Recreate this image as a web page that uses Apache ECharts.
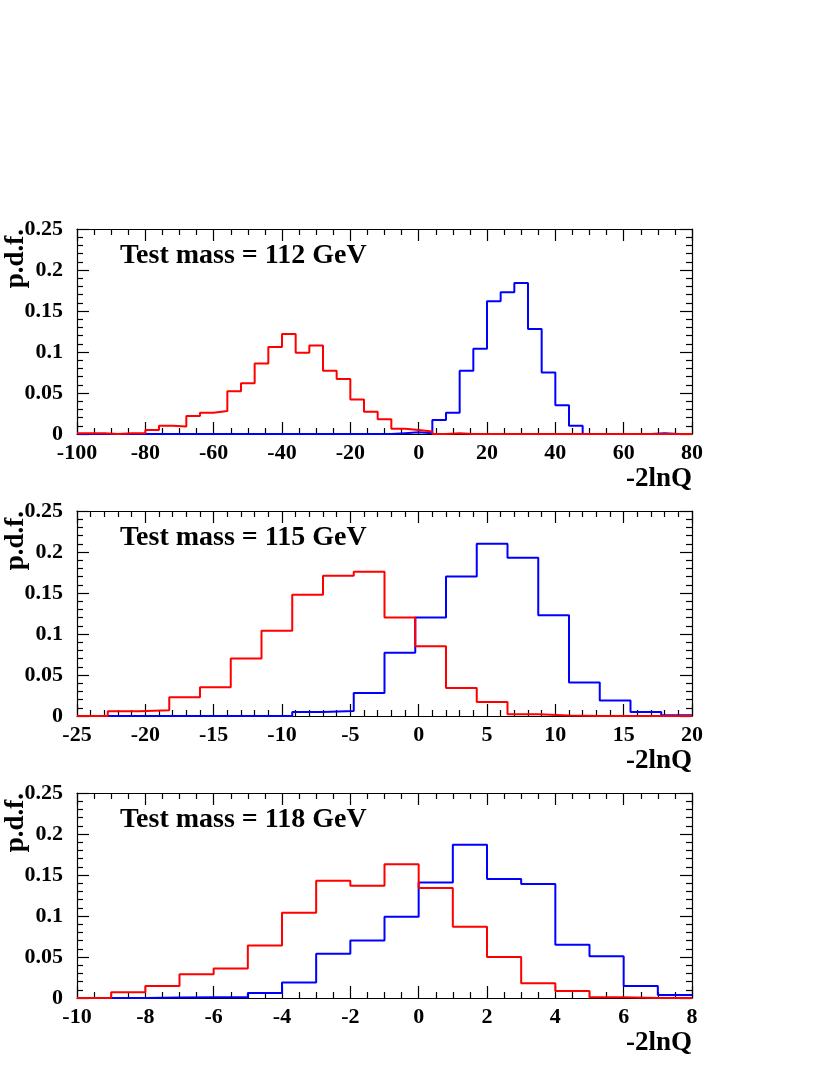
<!DOCTYPE html>
<html>
<head>
<meta charset="utf-8">
<script src="https://cdn.jsdelivr.net/npm/echarts@6/dist/echarts.min.js"></script>
<style>
html,body{margin:0;padding:0;background:#fff;}
#c{width:830px;height:1075px;}
</style>
</head>
<body>
<div id="c"></div>
<script>
// ---- Data ----
// Panel titles
var panelTitles = ['Test mass = 112 GeV', 'Test mass = 115 GeV', 'Test mass = 118 GeV'];
var xTitle = '-2lnQ';
var yTitle = 'p.d.f.';

// Panel 1 (112 GeV): bins of width 4 from -100 to 80
var p1Start = -100, p1Width = 4;
var p1Red = [0.001, 0.001, 0, 0.001, 0.001, 0.005, 0.010, 0.009, 0.022, 0.026, 0.028, 0.052, 0.062, 0.086, 0.106, 0.122, 0.099, 0.108, 0.077, 0.067, 0.042, 0.027, 0.018, 0.0065, 0.005,
             0.003, 0, 0.001, 0, 0, 0, 0, 0, 0, 0, 0, 0, 0, 0, 0, 0, 0, 0, 0, 0];
var p1Blue = [0, 0, 0, 0, 0, 0, 0, 0, 0, 0, 0, 0, 0, 0, 0, 0, 0, 0, 0, 0, 0, 0, 0, 0.001, 0.002,
              0.001, 0.017, 0.026, 0.077, 0.104, 0.162, 0.173, 0.184, 0.128, 0.075, 0.035, 0.010, 0, 0, 0, 0, 0, 0.001, 0, 0];

// Panel 2 (115 GeV): bins of width 2.25 from -25 to 20
var p2Start = -25, p2Width = 2.25;
var p2Red = [0, 0.0057, 0.007, 0.023, 0.035, 0.070, 0.104, 0.148, 0.171, 0.176, 0.120, 0.085, 0.034, 0.017, 0.002, 0.0005, 0, 0, 0, 0];
var p2Blue = [0, 0, 0, 0, 0, 0, 0, 0.005, 0.006, 0.028, 0.077, 0.120, 0.170, 0.210, 0.193, 0.123, 0.041, 0.019, 0.005, 0.001];

// Panel 3 (118 GeV): bins of width 1 from -10 to 8
var p3Start = -10, p3Width = 1;
var p3Red = [0, 0.007, 0.0146, 0.029, 0.036, 0.064, 0.104, 0.143, 0.137, 0.163, 0.134, 0.087, 0.050, 0.018, 0.0085, 0.001, 0, 0];
var p3Blue = [0, 0, 0.0005, 0.001, 0.001, 0.006, 0.019, 0.054, 0.070, 0.099, 0.141, 0.187, 0.145, 0.139, 0.065, 0.051, 0.0146, 0.0037];

// Axis ranges / ticks
var xRanges = [[-100, 80, 20, 4], [-25, 20, 5, 5], [-10, 8, 2, 4]]; // min, max, major interval, minor split
var yMin = 0, yMax = 0.25, yInterval = 0.05, yMinorSplit = 5;

// ---- Build ----
function histPoints(start, width, vals) {
  var pts = [];
  for (var i = 0; i < vals.length; i++) pts.push([start + i * width, vals[i]]);
  pts.push([start + vals.length * width, vals[vals.length - 1]]);
  return pts;
}

var panels = [
  {start: p1Start, width: p1Width, red: p1Red, blue: p1Blue},
  {start: p2Start, width: p2Width, red: p2Red, blue: p2Blue},
  {start: p3Start, width: p3Width, red: p3Red, blue: p3Blue}
];

var gridTops = [229, 511, 793];
var gridH = 205;
var gridLeft = 77, gridW = 615;
var FONT = '"Liberation Serif", "Times New Roman", serif';

var grids = [], xAxes = [], yAxes = [], series = [], graphics = [];

panels.forEach(function (p, k) {
  grids.push({left: gridLeft, top: gridTops[k], width: gridW, height: gridH, show: false});
  var r = xRanges[k];
  var axisLine = {show: true, onZero: false, lineStyle: {color: '#000', width: 1.2}};
  var tick = {show: true, inside: true, length: 12, lineStyle: {color: '#000', width: 1.2}};
  var minor = {show: true, splitNumber: r[3], length: 6, lineStyle: {color: '#000', width: 1.2}};
  xAxes.push({
    type: 'value', gridIndex: k, position: 'bottom', min: r[0], max: r[1], interval: r[2],
    axisLine: axisLine, axisTick: tick, minorTick: minor, splitLine: {show: false},
    axisLabel: {show: true, margin: 8, color: '#000', fontFamily: FONT, fontWeight: 'bold', fontSize: 22}
  });
  xAxes.push({
    type: 'value', gridIndex: k, position: 'top', min: r[0], max: r[1], interval: r[2],
    axisLine: axisLine, axisTick: tick, minorTick: minor, splitLine: {show: false},
    axisLabel: {show: false}
  });
  var yminor = {show: true, splitNumber: yMinorSplit, length: 6, lineStyle: {color: '#000', width: 1.2}};
  yAxes.push({
    type: 'value', gridIndex: k, position: 'left', min: yMin, max: yMax, interval: yInterval,
    axisLine: axisLine, axisTick: tick, minorTick: yminor, splitLine: {show: false},
    axisLabel: {show: true, margin: 14, color: '#000', fontFamily: FONT, fontWeight: 'bold', fontSize: 22,
      formatter: function (v) { return String(Math.round(v * 100) / 100); }}
  });
  yAxes.push({
    type: 'value', gridIndex: k, position: 'right', min: yMin, max: yMax, interval: yInterval,
    axisLine: axisLine, axisTick: tick, minorTick: yminor, splitLine: {show: false},
    axisLabel: {show: false}
  });
  series.push({
    type: 'line', xAxisIndex: 2 * k, yAxisIndex: 2 * k, step: 'end', symbol: 'none',
    lineStyle: {color: '#0000ff', width: 2}, data: histPoints(p.start, p.width, p.blue), z: 3, silent: true, animation: false
  });
  series.push({
    type: 'line', xAxisIndex: 2 * k, yAxisIndex: 2 * k, step: 'end', symbol: 'none',
    lineStyle: {color: '#ff0000', width: 2}, data: histPoints(p.start, p.width, p.red), z: 4, silent: true, animation: false
  });
  var top = gridTops[k];
  graphics.push({
    type: 'text', left: 120, top: top + 13,
    style: {text: panelTitles[k], fill: '#000', font: 'bold 28px ' + FONT}
  });
  graphics.push({
    type: 'text', x: 692, y: top + gridH + 45,
    style: {text: xTitle, fill: '#000', font: 'bold 27px ' + FONT, textAlign: 'right', textVerticalAlign: 'middle'}
  });
  graphics.push({
    type: 'text', x: 16, y: top, rotation: Math.PI / 2,
    style: {text: yTitle, fill: '#000', font: 'bold 27px ' + FONT, textAlign: 'right', textVerticalAlign: 'middle'}
  });
});

var chart = echarts.init(document.getElementById('c'), null, {renderer: 'canvas'});
chart.setOption({
  animation: false,
  backgroundColor: '#fff',
  grid: grids,
  xAxis: xAxes,
  yAxis: yAxes,
  series: series,
  graphic: graphics
});
</script>
</body>
</html>
